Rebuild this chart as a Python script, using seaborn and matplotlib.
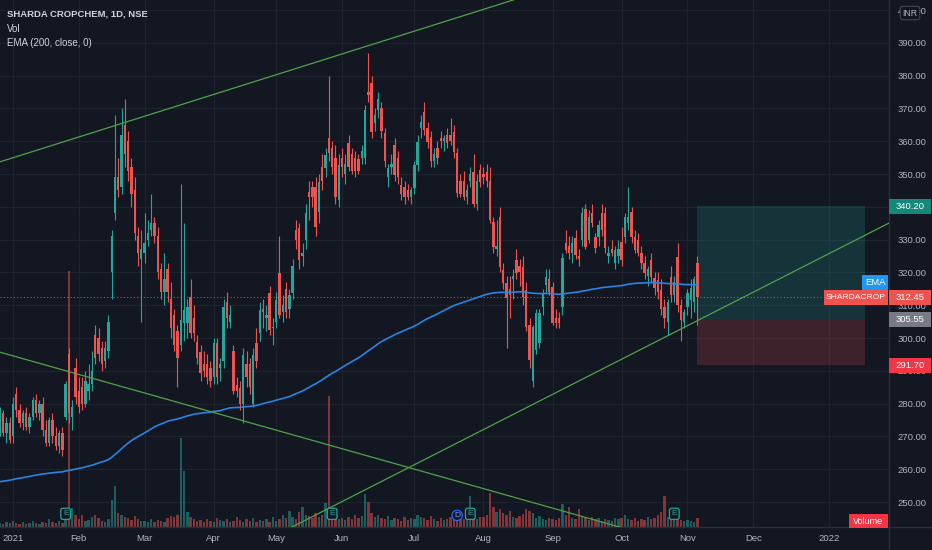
import numpy as np
import pandas as pd
import matplotlib
matplotlib.use("Agg")
import matplotlib.pyplot as plt
import seaborn as sns
from matplotlib.patches import Rectangle
from matplotlib.lines import Line2D
from matplotlib.transforms import blended_transform_factory

# ---------------- data ----------------
first_day = "2020-12-28"
axis_end = "2022-01-31"
nse_holidays = ["2021-01-26", "2021-03-11", "2021-03-29", "2021-04-02", "2021-04-14",
                "2021-04-21", "2021-05-13", "2021-07-21", "2021-08-19", "2021-09-10",
                "2021-10-15", "2021-11-05", "2021-11-19"]

opens = [272, 277, 271, 274,
         270, 283, 278, 274, 277, 273, 276, 281, 277, 280, 272, 268, 275, 270, 267, 271, 276, 295, 276, 291,
         284, 285, 280, 284, 286, 301, 300, 297, 293, 296, 320, 338, 349, 346, 365, 360, 352, 345, 331, 324,
         326, 330, 333, 335, 331, 321, 314, 321, 312, 307, 302, 298, 304.6, 304.6, 312.5, 306, 298.8, 295.7, 292, 292, 291,
         288, 298.5, 291, 293, 311, 305, 296, 285.7, 284.7, 280, 292, 292, 280, 298.5, 301.5, 309, 306, 313.7, 303,
         305, 319.8, 308, 315, 309, 313.7, 333, 333.5, 325, 330, 344.5, 346, 346, 338.4, 352, 351.8, 361, 358, 355, 342,
         355, 350, 359.5, 356, 355, 354.6, 355, 355, 375, 377.7, 365.5, 369.5, 370, 362.5, 349, 352, 358.8, 354.9, 346.6, 346, 345, 343,
         345.7, 352.7, 364, 369, 364, 361.3, 354, 358, 361, 360, 362, 362, 362.8, 356.4, 348, 348, 343, 348, 350.6, 341, 351.2,
         350, 350.6, 348, 335.4, 327, 337, 320.7, 316.8, 315, 318, 323.8, 322, 321.6, 314.6, 304, 287, 296.3, 298.5, 309.5, 316.2, 318,
         315.5, 306, 306, 309.5, 329, 328, 326, 330.5, 325, 330, 339.3, 330, 338, 330.8, 330.8, 338, 338, 325, 327, 322.9, 325,
         329.3, 330.8, 335, 338.4, 330.8, 330, 326, 322.9, 319, 323.8, 318.3, 317.7, 314.6, 309.5, 304.9, 318.6, 313, 324.7, 310, 305,
         309.5, 311.6, 311, 322.9]

highs = [279, 278, 276, 276,
         282, 285, 280, 278, 279, 277, 282, 283, 281, 282, 275, 276, 277, 273, 272, 273, 287, 297, 281, 294,
         288, 288, 290, 292, 296, 304, 303, 299, 299, 307, 333, 368, 355, 370, 373, 363, 355, 349, 334, 333,
         338, 336, 344, 337, 334, 323, 326, 323, 317, 309, 304, 347, 335, 312, 318, 310, 301, 298, 296, 295, 293,
         300, 300, 294, 312, 314, 310, 298, 288, 287, 297, 296, 294, 297, 303, 311, 312, 310, 316, 306,
         314, 331, 313, 317, 315, 324, 336, 335, 329, 341, 348, 348, 349, 350, 356, 358, 380, 360, 359, 356,
         358, 356, 362, 358, 357, 356, 359, 371, 387, 380, 370, 375, 372, 364, 353, 356, 361, 357, 349, 348, 347, 346,
         354, 362, 368, 372, 366, 363, 358, 360, 363, 362, 364, 367, 365, 358, 350, 351, 347, 352, 356, 350, 353,
         352, 353, 352, 337, 336, 340, 323, 319, 319, 321, 327, 324, 325, 317, 306, 304, 309, 309, 315, 321, 321,
         317, 309, 308, 326, 333, 331, 331, 333, 327, 340, 341, 339, 341, 332, 336, 341, 340, 328, 330, 328, 330,
         334, 338, 346, 340, 333, 332, 328, 325, 322, 326, 320, 320, 318, 312, 312, 322, 319, 329, 312, 309,
         315, 318, 319, 325]

lows = [270, 270, 268, 268,
        268, 276, 273, 272, 272, 271, 275, 276, 275, 270, 267, 267, 268, 266, 265, 264, 275, 274, 272, 280,
        277, 278, 279, 281, 284, 292, 293, 290, 291, 294, 312, 336, 343, 344, 352, 348, 340, 330, 322, 305,
        323, 328, 331, 329, 318, 312, 310, 311, 300, 296, 285, 296, 299, 300, 300, 299, 292, 287, 288, 286, 285,
        286, 286, 287, 291, 303, 303, 283, 282, 278, 274, 285, 283, 279, 291, 299, 303, 302, 301, 298,
        303, 306, 305, 306, 306, 312, 327, 321, 322, 327, 336, 340, 331, 335, 345, 349, 354, 350, 341, 340,
        349, 347, 351, 350, 349, 350, 353, 353, 372, 361, 363, 367, 361, 352, 346, 350, 348, 347, 342, 341, 342, 341,
        344, 351, 361, 362, 358, 352, 352, 353, 358, 357, 358, 359, 355, 343, 343, 342, 341, 346, 340, 339, 346,
        347, 346, 335, 326, 325, 320, 315, 297, 306, 312, 318, 316, 310, 302, 291, 285, 295, 297, 307, 314, 313,
        304, 303, 303, 307, 326, 324, 323, 324, 322, 328, 327, 329, 334, 326, 328, 331, 326, 323, 325, 321, 323,
        322, 329, 333, 329, 326, 325, 321, 318, 316, 317, 313, 312, 307, 303, 301, 311, 311, 308, 299, 303,
        307, 306, 308, 304]

closes = [277, 271, 274, 269,
          280, 278, 274, 277, 273, 276, 281, 277, 280, 272, 268, 275, 270, 267, 271, 266, 286, 277, 279, 282,
          279, 280, 287, 286, 290, 294, 295, 292, 297, 305, 331, 349, 345, 362, 356, 351, 344, 332, 326, 327,
          329, 332, 335, 331, 320, 314, 318, 314, 303, 298, 294, 305.5, 308.5, 309.5, 301.5, 301.5, 294, 289.3, 290, 288, 287,
          298.5, 288, 292, 309.5, 306, 307, 284, 284, 280, 294.8, 288, 285, 294.8, 293, 308.5, 308, 307, 302.4, 303.5,
          311.6, 307, 310, 308, 313, 322, 330, 323.8, 326, 338, 343, 343, 334, 347.6, 348, 355.8, 356.4, 352, 343, 352.7,
          352, 353, 352, 351, 351, 351, 357, 369.5, 374, 362.8, 368, 373, 363, 354, 351.8, 353, 349.7, 349, 344, 343, 343, 345,
          352.7, 359.8, 366, 363.4, 359.8, 354, 356, 354.8, 360, 361, 359.5, 360, 356.7, 344.2, 344, 343, 345, 350, 341, 348, 347.6,
          349, 348, 336, 327.7, 328, 321.6, 316.8, 312.2, 313, 319, 319.8, 320, 312.5, 303.4, 293.3, 303.4, 307.6, 307.6, 313.7, 318.6, 314,
          304.6, 304.6, 304.6, 324.4, 326.8, 326, 329, 325.3, 324, 338, 327.7, 337, 335, 327.4, 334.5, 333, 327.4, 326, 326, 326.8, 327,
          323.8, 336.9, 337, 330.8, 326.8, 326, 322.9, 319.8, 321, 318.6, 315.2, 314, 309, 306, 311, 313, 317, 310, 305.5, 308,
          313.7, 315.2, 318, 312.45]

# volume, thousands of shares
volumes = [20, 15, 25, 20,
           30, 20, 15, 25, 15, 20, 30, 20, 15, 25, 20, 40, 25, 20, 30, 20, 50, 1280, 95, 60,
           40, 60, 30, 35, 50, 60, 45, 30, 25, 40, 135, 205, 70, 60, 50, 45, 35, 55, 40, 30,
           30, 25, 40, 25, 35, 30, 25, 45, 55, 50, 60, 445, 280, 75, 50, 40, 30, 35, 25, 40, 30,
           25, 45, 35, 30, 40, 25, 30, 50, 35, 25, 40, 30, 45, 25, 35, 30, 40, 25, 50,
           30, 40, 60, 45, 80, 50, 40, 75, 100, 60, 55, 45, 70, 50, 60, 120, 655, 80, 50, 40,
           45, 35, 50, 40, 60, 45, 55, 165, 125, 70, 50, 60, 45, 40, 55, 35, 45, 40, 30, 50, 35, 45,
           40, 60, 50, 45, 35, 55, 40, 30, 45, 35, 40, 50, 60, 70, 45, 40, 55, 155, 60, 40, 50,
           50, 60, 170, 100, 75, 90, 70, 60, 80, 50, 45, 55, 65, 90, 80, 70, 45, 55, 40, 35, 45,
           40, 35, 45, 115, 60, 100, 45, 40, 90, 55, 45, 35, 50, 40, 45, 30, 40, 35, 30, 45, 40,
           45, 60, 40, 35, 45, 30, 40, 35, 50, 40, 45, 60, 75, 155, 50, 90, 45, 40, 35, 30,
           35, 30, 25, 45]

ema_seed = 256.0          # EMA(200) level just before the first visible bar
current_price = 312.45
target_price = 340.20
entry_price = 305.55
stop_price = 291.70
position_bars = 51

# drawn trend lines, two anchors each (date, price)
trend_lines = [[("2020-12-28", 353.7), ("2021-08-02", 400.2)],
               [("2020-12-28", 295.7), ("2021-05-26", 267.4)],
               [("2021-05-11", 243.0), ("2021-11-04", 305.3)]]
earnings_dates = ["2021-01-25", "2021-05-27", "2021-07-27", "2021-10-26"]
dividend_dates = ["2021-07-20"]
price_ticks = list(range(250, 401, 10))

# ---------------- style ----------------
BG = "#131722"
GRID = "#1e222d"
UP = "#26a69a"
DOWN = "#ef5350"
TXT = "#b2b5be"
W, H = 932, 550

sns.set_style("dark")
plt.rcParams["font.family"] = ["Liberation Sans", "DejaVu Sans"]

all_days = pd.bdate_range(first_day, axis_end)
all_days = all_days[~all_days.isin(pd.to_datetime(nse_holidays))]
day_pos = pd.Series(np.arange(len(all_days)), index=all_days)
n = len(closes)
x = np.arange(n)

o = np.array(opens, float)
c = np.array(closes, float)
hi = np.array(highs, float)
lo = np.array(lows, float)
up = c >= o
col = np.where(up, UP, DOWN)

fig = plt.figure(figsize=(W / 100, H / 100), dpi=100, facecolor=BG)
rect = [0, 23 / H, 889 / W, 527 / H]
ax_v = fig.add_axes(rect)
ax = fig.add_axes(rect, sharex=ax_v)
ax_v.set_facecolor(BG)
ax.patch.set_alpha(0)
ax.set_zorder(2)
ax_v.set_zorder(1)

ax.set_xlim(0.05, 270.26)
ax.set_ylim(242.4, 403.05)
ax_v.set_ylim(0, 2635)

# month ticks
tick_pos, tick_lab = [], []
for m in pd.period_range("2021-01", "2022-01", freq="M"):
    d = all_days[(all_days.year == m.year) & (all_days.month == m.month)][0]
    tick_pos.append(day_pos[d])
    tick_lab.append(str(m.year) if m.month == 1 else d.strftime("%b"))

# grid (under the volume bars)
gtrans = blended_transform_factory(ax_v.transAxes, ax.transData)
for p in price_ticks:
    ax_v.add_line(Line2D([0, 1], [p, p], transform=gtrans, color=GRID, lw=0.9, zorder=0))
for t in tick_pos:
    ax_v.axvline(t, color=GRID, lw=0.9, zorder=0)

# volume
ax_v.bar(x, volumes, width=0.72, color=col, alpha=0.5, lw=0, zorder=1)

# position tool box
ax.add_patch(Rectangle((x[-1], entry_price), position_bars, target_price - entry_price,
                       fc=UP, alpha=0.2, lw=0, zorder=1))
ax.add_patch(Rectangle((x[-1], stop_price), position_bars, entry_price - stop_price,
                       fc=DOWN, alpha=0.2, lw=0, zorder=1))

# candles
body = np.where(np.abs(c - o) < 0.35, 0.35, c - o)
ax.vlines(x, lo, hi, colors=col, lw=0.8, zorder=3)
ax.bar(x, body, bottom=o, width=0.72, color=col, lw=0, zorder=4)

# EMA 200
ema = pd.Series([ema_seed] + closes).ewm(span=200, adjust=False).mean().iloc[1:].to_numpy()
sns.lineplot(x=x, y=ema, ax=ax, color="#2a84e0", lw=1.2, zorder=5)

# trend lines
xl = np.array(ax.get_xlim())
for (d1, p1), (d2, p2) in trend_lines:
    x1, x2 = day_pos[pd.Timestamp(d1)], day_pos[pd.Timestamp(d2)]
    ys = p1 + (p2 - p1) / (x2 - x1) * (xl - x1)
    sns.lineplot(x=xl, y=ys, ax=ax, color="#4fa24a", lw=0.9, zorder=6)

ax.axhline(current_price, color=DOWN, lw=0.8, ls=(0, (1, 2)), alpha=0.8, zorder=2)

# axes cosmetics
for a in (ax, ax_v):
    for s in a.spines.values():
        s.set_visible(False)
ax_v.set_yticks([])
ax_v.tick_params(labelbottom=False, length=0)
ax.set_xticks(tick_pos, tick_lab)
ax.set_yticks(price_ticks, [f"{p:.2f}" for p in price_ticks])
ax.yaxis.tick_right()
ax.tick_params(axis="y", length=0, pad=6, labelsize=6.8, labelcolor=TXT)
ax.tick_params(axis="x", length=0, pad=5, labelsize=6.8, labelcolor=TXT)
ax.grid(False)
ax_v.grid(False)
ax.set_xlabel("")
ax.set_ylabel("")

fig.add_artist(Line2D([889 / W, 889 / W], [0, 1], transform=fig.transFigure, color="#2a2e39", lw=1))
fig.add_artist(Line2D([0, 1], [23 / H, 23 / H], transform=fig.transFigure, color="#2a2e39", lw=1))

# event badges
btrans = blended_transform_factory(ax.transData, ax.transAxes)
for d in earnings_dates:
    ax.text(day_pos[pd.Timestamp(d)], 0.025, "E", transform=btrans, ha="center", va="center",
            fontsize=6, color=UP, zorder=8,
            bbox=dict(boxstyle="round,pad=0.25", fc=BG, ec=UP, lw=0.9))
for d in dividend_dates:
    ax.text(day_pos[pd.Timestamp(d)], 0.022, "D", transform=btrans, ha="center", va="center",
            fontsize=6, color="#7b9cff", zorder=8,
            bbox=dict(boxstyle="circle,pad=0.2", fc=BG, ec="#2962ff", lw=0.9))


def fig_y(price):
    return ax.transData.transform((0, price))[1] / fig.bbox.height


def tag(yc, label, color, x0, x1, h=15, fs=6.8):
    fig.add_artist(Rectangle((x0 / W, yc - h / 2 / H), (x1 - x0) / W, h / H,
                             transform=fig.transFigure, fc=color, ec="none", zorder=10))
    fig.text((x0 + x1) / 2 / W, yc, label, color="white", fontsize=fs, ha="center",
             va="center", zorder=11)


tag(fig_y(target_price), f"{target_price:.2f}", "#12897b", 889, 931)
tag(fig_y(max(ema[-1], current_price + 4.4)), "EMA", "#2196f3", 862, 888)
tag(fig_y(current_price), "SHARDACROP", DOWN, 824, 888, fs=6.1)
tag(fig_y(current_price), f"{current_price:.2f}", DOWN, 889, 931)
tag(fig_y(entry_price), f"{entry_price:.2f}", "#787b86", 889, 931)
tag(fig_y(stop_price), f"{stop_price:.2f}", "#f23645", 889, 931)
tag(1 - 521 / H, "Volume", "#f23645", 849, 888, h=14, fs=6.5)

fig.text(910 / W, 1 - 13 / H, "INR", fontsize=6.3, color=TXT, ha="center", va="center", zorder=12,
         bbox=dict(boxstyle="round,pad=0.25", fc=BG, ec="#434651", lw=0.8))

# legend text top left
fig.text(7 / W, 1 - 14 / H, "SHARDA CROPCHEM, 1D, NSE", fontsize=6.8, fontweight="bold",
         color="#d1d4dc", va="center")
fig.text(7 / W, 1 - 28.5 / H, "Vol", fontsize=7, color="#d1d4dc", va="center")
fig.text(7 / W, 1 - 43 / H, "EMA (200, close, 0)", fontsize=7, color="#d1d4dc", va="center")

fig.savefig("out.png", dpi=100, facecolor=BG)
